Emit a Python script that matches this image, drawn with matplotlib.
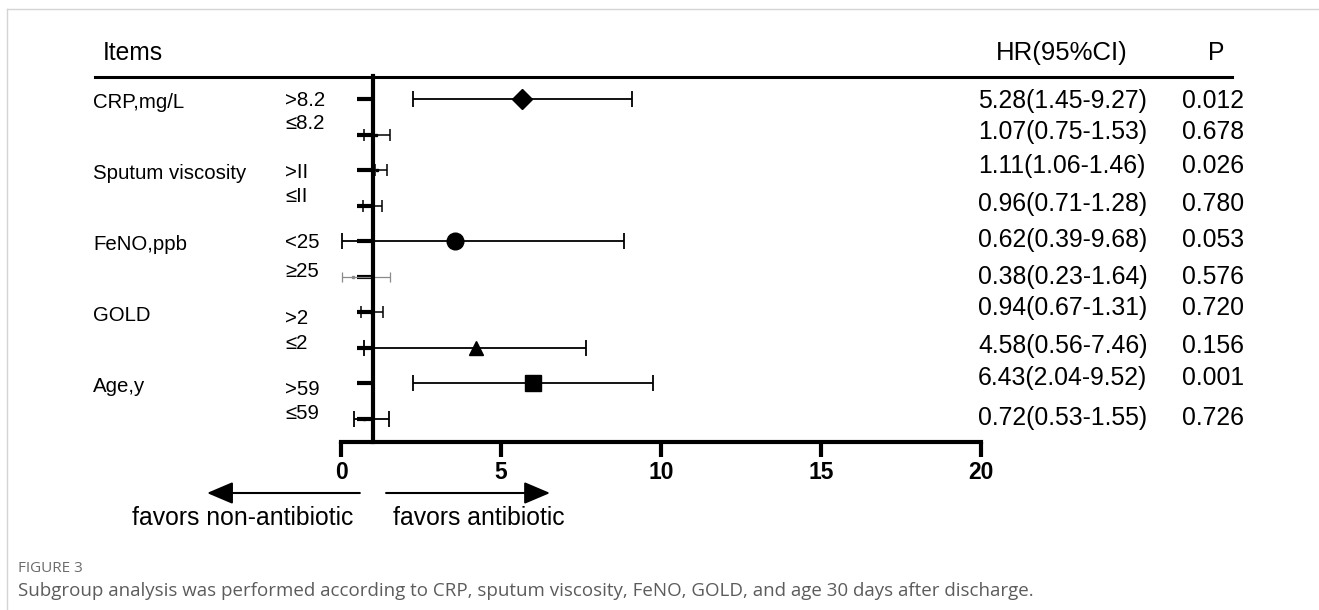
import matplotlib
matplotlib.use('Agg')
import matplotlib.pyplot as plt
from matplotlib.lines import Line2D
from matplotlib.transforms import blended_transform_factory

# =============================================================================
#   DATA
# =============================================================================

groups = ['CRP,mg/L', 'Sputum viscosity', 'FeNO,ppb', 'GOLD', 'Age,y']
subgroups = ['>8.2', '≤8.2', '>II', '≤II', '<25', '≥25', '>2', '≤2', '>59', '≤59']

# values as drawn on the plot
hr_point = [5.66, 1.07, 1.11, 0.96, 3.56, 0.38, 0.94, 4.22, 6.00, 0.72]
ci_low = [2.25, 0.71, 1.06, 0.68, 0.02, 0.02, 0.62, 0.71, 2.25, 0.40]
ci_high = [9.10, 1.52, 1.43, 1.27, 8.85, 1.52, 1.30, 7.66, 9.75, 1.49]

hr_text = ['5.28(1.45-9.27)', '1.07(0.75-1.53)', '1.11(1.06-1.46)',
           '0.96(0.71-1.28)', '0.62(0.39-9.68)', '0.38(0.23-1.64)',
           '0.94(0.67-1.31)', '4.58(0.56-7.46)', '6.43(2.04-9.52)',
           '0.72(0.53-1.55)']
p_text = ['0.012', '0.678', '0.026', '0.780', '0.053', '0.576', '0.720',
          '0.156', '0.001', '0.726']

x_ticks = [0, 5, 10, 15, 20]

# =============================================================================
#   STYLE / LAYOUT
# =============================================================================

W, H = 1319, 610
ROW_PX = 35.55
markers = ['D', 's', 's', 's', 'o', 's', 's', '^', 's', 's']
msizes = [10.5, 2, 2, 2, 12, 2, 2, 10.5, 11, 2]
colors = ['black'] * 5 + ['#8a8a8a'] + ['black'] * 4
capsizes = [11, 8, 8, 8, 11, 7, 8, 12, 11, 11]
elw = [1.3, 1.1, 1.1, 1.1, 1.3, 0.9, 1.1, 1.3, 1.3, 1.3]
# small vertical nudges of the text (pixels, + = down)
label_nudge = [1, -11, 2, -9, 1, -5, 6, -4, 6, -5]
hr_nudge = [2, -3, -4, -2, -1, 0, -4, -2, -5, -1]

FONT = 'Liberation Sans'
plt.rcParams['font.family'] = [FONT, 'DejaVu Sans']


def fx(px):
    return px / W


def fy(py):
    return 1 - py / H


fig = plt.figure(figsize=(W / 100, H / 100), dpi=100)

x0_px, x20_px = 341.3, 980.7
top_px, bot_px = 76, 441.7
ax = fig.add_axes([fx(x0_px), fy(bot_px), fx(x20_px - x0_px), (bot_px - top_px) / H])
row0_px = 99
ax.set_xlim(0, 20)
ax.set_ylim((bot_px - row0_px) / ROW_PX, (top_px - row0_px) / ROW_PX)

for i in range(len(subgroups)):
    lo = hr_point[i] - ci_low[i]
    hi = ci_high[i] - hr_point[i]
    ax.errorbar(hr_point[i], i, xerr=[[lo], [hi]], fmt=markers[i],
                ms=msizes[i], color=colors[i], ecolor=colors[i],
                elinewidth=elw[i], capsize=capsizes[i] / 2, capthick=elw[i],
                zorder=3)

for s in ['top', 'right']:
    ax.spines[s].set_visible(False)
ax.spines['left'].set_position(('data', 1))
ax.spines['left'].set_linewidth(3)
ax.spines['left'].set_zorder(4)
ax.spines['bottom'].set_linewidth(3)

ax.set_yticks(range(len(subgroups)))
ax.set_yticklabels([])
ax.tick_params(axis='y', direction='out', length=11.5, width=3)
ax.set_xticks(x_ticks)
ax.set_xticklabels([str(t) for t in x_ticks], fontsize=16.5, fontweight='bold')
ax.tick_params(axis='x', direction='out', length=11, width=3, pad=3)

# headers and the top rule
fig.add_artist(Line2D([fx(95), fx(1232)], [fy(77), fy(77)], color='black', lw=2.2))
fig.text(fx(103), fy(53), 'Items', fontsize=17.7, va='center', ha='left')
fig.text(fx(1062), fy(53), 'HR(95%CI)', fontsize=18.5, va='center', ha='center')
fig.text(fx(1208), fy(53), 'P', fontsize=17.7, va='center', ha='left')

tr = blended_transform_factory(fig.transFigure, ax.transData)
for g, name in enumerate(groups):
    fig.text(fx(93), 2 * g + 3 / ROW_PX, name, transform=tr, fontsize=14.7,
             va='center', ha='left')
for i, lab in enumerate(subgroups):
    fig.text(fx(285), i + label_nudge[i] / ROW_PX, lab, transform=tr,
             fontsize=14.7, va='center', ha='left')
    fig.text(fx(978), i + hr_nudge[i] / ROW_PX, hr_text[i], transform=tr,
             fontsize=17.8, va='center', ha='left')
    fig.text(fx(1182), i + hr_nudge[i] / ROW_PX, p_text[i], transform=tr,
             fontsize=17.8, va='center', ha='left')

# favours arrows below the axis
ytr = ax.get_xaxis_transform()
y_arrow = (bot_px - 493) / (bot_px - top_px)
arrow_style = '-|>,head_length=1.6,head_width=0.68'
ax.annotate('', xy=(-4.2, y_arrow), xytext=(0.58, y_arrow), xycoords=ytr,
            annotation_clip=False,
            arrowprops=dict(arrowstyle=arrow_style, color='black', lw=1.5,
                            mutation_scale=10, shrinkA=0, shrinkB=0))
ax.annotate('', xy=(6.53, y_arrow), xytext=(1.40, y_arrow), xycoords=ytr,
            annotation_clip=False,
            arrowprops=dict(arrowstyle=arrow_style, color='black', lw=1.5,
                            mutation_scale=10, shrinkA=0, shrinkB=0))
y_fav = (bot_px - 518) / (bot_px - top_px)
ax.text(0.37, y_fav, 'favors non-antibiotic', transform=ytr, fontsize=17.8,
        ha='right', va='center')
ax.text(1.62, y_fav, 'favors antibiotic', transform=ytr, fontsize=17.8,
        ha='left', va='center')

# page frame and caption
fig.add_artist(Line2D([fx(7), fx(1319)], [fy(9), fy(9)], color='#d4d4d4', lw=1))
fig.add_artist(Line2D([fx(7), fx(7)], [fy(9), fy(610)], color='#d4d4d4', lw=1))
fig.text(fx(18), fy(568), 'FIGURE 3', fontsize=11, color='#6b6b6b',
         family=['Open Sans', 'DejaVu Sans'], va='center', ha='left')
fig.text(fx(18), fy(591),
         'Subgroup analysis was performed according to CRP, sputum viscosity, '
         'FeNO, GOLD, and age 30 days after discharge.',
         fontsize=13.5, color='#5c5c5c', family=['Open Sans', 'DejaVu Sans'],
         va='center', ha='left')

fig.savefig('out.png', dpi=100)
